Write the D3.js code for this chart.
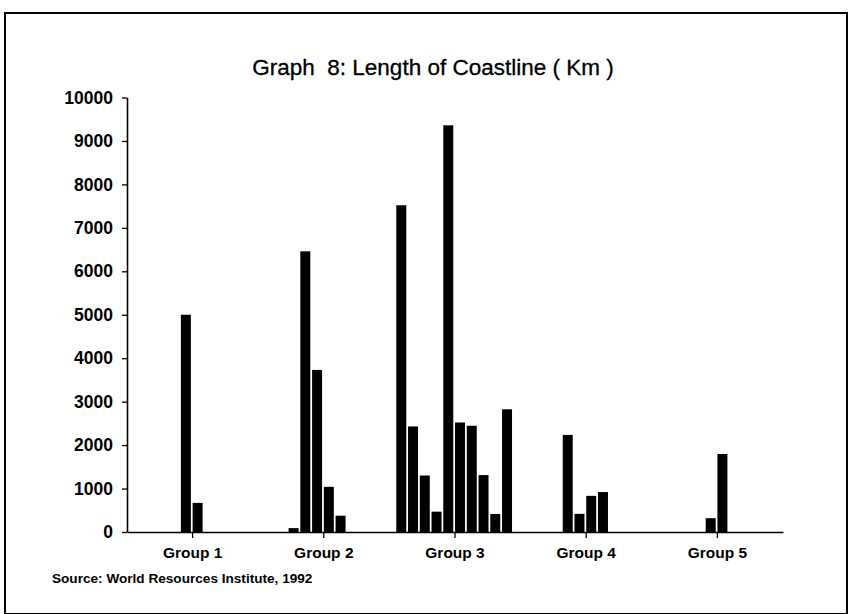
<!DOCTYPE html>
<html>
<head>
<meta charset="utf-8">
<script src="https://d3js.org/d3.v7.min.js"></script>
<style>
    body { margin: 0; background: #fff; }
    text { font-family: "Liberation Sans", Arial, sans-serif; fill: #000; }
</style>
</head>
<body>
<div class="chart"></div>
<script>
'use strict';

/*---------------------------------------------------------------
data (slots 1-10 in every group, null = no bar)
---------------------------------------------------------------*/
var groups = ['Group 1', 'Group 2', 'Group 3', 'Group 4', 'Group 5'];
var yTicks = [0, 1000, 2000, 3000, 4000, 5000, 6000, 7000, 8000, 9000, 10000];

var group1 = [null, null, null, null, 5000, 670, null, null, null, null];
var group2 = [null, null, 90, 6460, 3730, 1040, 375, null, null, null];
var group3 = [7520, 2430, 1300, 468, 9360, 2520, 2445, 1310, 415, 2825];
var group4 = [null, null, null, 2235, 418, 832, 920, null, null, null];
var group5 = [null, null, null, null, 318, 1795, null, null, null, null];

var title = 'Graph  8: Length of Coastline ( Km )';
var source = 'Source: World Resources Institute, 1992';

/*---------------------------------------------------------------
set width + height
---------------------------------------------------------------*/
var w = 849,
    h = 614,
    padL = 127,
    padR = 783,
    padT = 97.5,
    padB = 532;

var svg = d3.select('.chart')
    .append('svg')
    .attr('width', w)
    .attr('height', h);

// frame round the whole thing
svg.append('rect')
    .attr('x', 5)
    .attr('y', 13)
    .attr('width', 842)
    .attr('height', 601)
    .attr('fill', 'none')
    .attr('stroke', '#000')
    .attr('stroke-width', 2);

svg.append('text')
    .attr('x', 433)
    .attr('y', 75)
    .attr('text-anchor', 'middle')
    .attr('font-size', '22.5px')
    .attr('stroke', '#000')
    .attr('stroke-width', 0.3)
    .style('white-space', 'pre')
    .text(title);

/*---------------------------------------------------------------
scales
---------------------------------------------------------------*/
var x = d3.scaleBand()
    .domain(groups)
    .range([padL, padR]);

var slot = d3.scaleBand()
    .domain(d3.range(10))
    .range([-59.6, 57.9])
    .paddingInner(0.15)
    .paddingOuter(0.075);

var y = d3.scaleLinear()
    .domain([0, 10000])
    .range([padB, padT]);

/*---------------------------------------------------------------
bars
---------------------------------------------------------------*/
var rows = [group1, group2, group3, group4, group5];
var bars = [];
rows.forEach(function(vals, g) {
    vals.forEach(function(v, i) {
        if (v !== null) bars.push({ group: groups[g], slot: i, value: v });
    });
});

svg.selectAll('rect.bar')
    .data(bars)
    .enter()
    .append('rect')
    .attr('class', 'bar')
    .attr('x', function(d) { return x(d.group) + x.bandwidth() / 2 + slot(d.slot); })
    .attr('y', function(d) { return y(d.value); })
    .attr('width', slot.bandwidth())
    .attr('height', function(d) { return y(0) - y(d.value); })
    .attr('fill', '#000');

/*---------------------------------------------------------------
axes
---------------------------------------------------------------*/
var yAxis = svg.append('g')
    .attr('transform', 'translate(' + padL + ',0)')
    .call(d3.axisLeft(y).tickValues(yTicks).tickFormat(d3.format('d'))
        .tickSize(5).tickSizeOuter(0).tickPadding(9));

var xAxis = svg.append('g')
    .attr('transform', 'translate(0,' + padB + ')')
    .call(d3.axisBottom(x).tickSize(6).tickSizeOuter(0).tickPadding(9));

[yAxis, xAxis].forEach(function(a) {
    a.select('.domain').attr('stroke', '#000').attr('stroke-width', 1.6);
    a.selectAll('.tick line').attr('stroke', '#000').attr('stroke-width', 1.3);
    a.selectAll('.tick text')
        .attr('font-family', '"Liberation Sans", Arial, sans-serif')
        .attr('font-weight', 'bold')
        .attr('fill', '#000');
});

yAxis.selectAll('.tick text').attr('font-size', '17.5px');
xAxis.selectAll('.tick text').attr('font-size', '15.5px');

svg.append('text')
    .attr('x', 52)
    .attr('y', 583)
    .attr('font-size', '13.6px')
    .attr('font-weight', 'bold')
    .text(source);

</script>
</body>
</html>
